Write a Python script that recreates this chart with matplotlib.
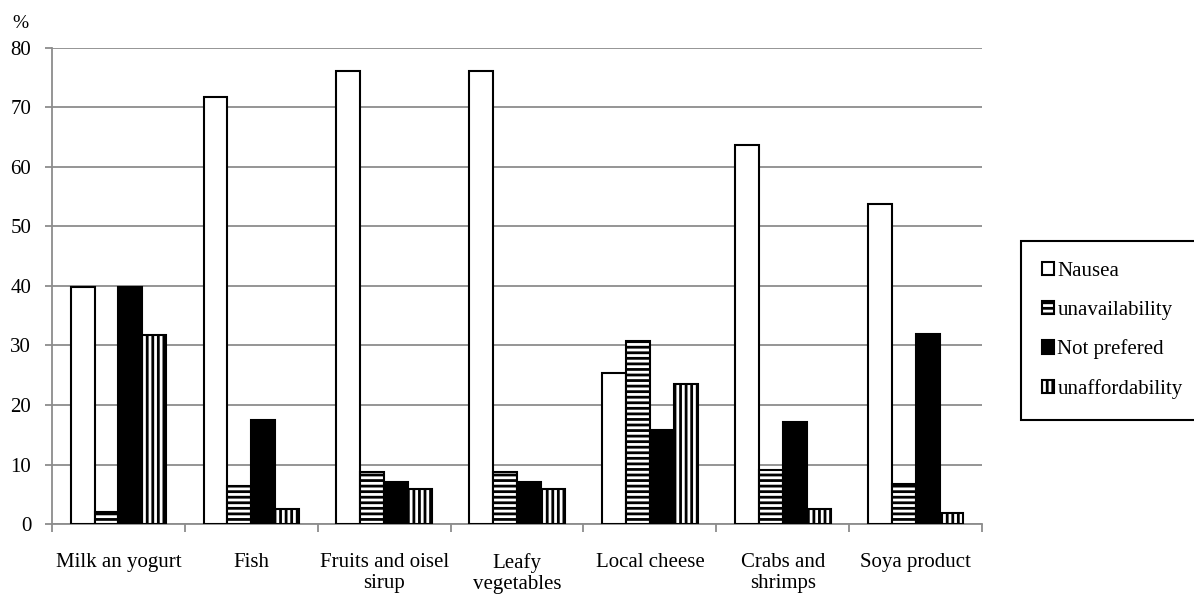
import matplotlib
matplotlib.use("Agg")
import matplotlib.pyplot as plt
import numpy as np

plt.rcParams['font.family'] = ['Liberation Serif', 'DejaVu Serif']
plt.rcParams['hatch.color'] = 'black'
plt.rcParams['hatch.linewidth'] = 2.0

categories = ["Milk an yogurt", "Fish", "Fruits and oisel\nsirup", "Leafy\nvegetables",
              "Local cheese", "Crabs and\nshrimps", "Soya product"]
series_names = ["Nausea", "unavailability", "Not prefered", "unaffordability"]
nausea = [39.8, 71.7, 76.1, 76.1, 25.4, 63.7, 53.7]
unavailability = [2.0, 6.4, 8.7, 8.7, 30.8, 9.1, 6.8]
not_prefered = [39.8, 17.5, 7.1, 7.1, 15.8, 17.2, 32.0]
unaffordability = [31.8, 2.6, 5.8, 5.8, 23.6, 2.6, 1.9]
y_ticks = [0, 10, 20, 30, 40, 50, 60, 70, 80]

series = [nausea, unavailability, not_prefered, unaffordability]
faces = ['white', 'white', 'black', 'white']
hatches = [None, '---', None, '|||']

fig = plt.figure(figsize=(11.94, 5.96), dpi=100)
ax = fig.add_axes([0.0436, 0.1208, 0.7789, 0.7987])

x = np.arange(len(categories))
w = 0.18
for i, vals in enumerate(series):
    ax.bar(x + (i - 1.5) * w, vals, w, color=faces[i], edgecolor='black',
           linewidth=1.5, hatch=hatches[i], label=series_names[i], zorder=3)

ax.set_xlim(-0.5, len(categories) - 0.5)
ax.set_ylim(0, 80)
ax.set_yticks(y_ticks)
ax.yaxis.grid(True, color='#8c8c8c', linewidth=1.3, zorder=0)
ax.set_xticks(x)
ax.set_xticklabels(categories, fontsize=15, linespacing=1.15)
ax.tick_params(axis='x', length=0, pad=21)
ax.set_xticks(np.arange(-0.5, len(categories)), minor=True)
ax.tick_params(axis='x', which='minor', length=6, color='#8c8c8c', width=1.3)
ax.tick_params(axis='y', length=5, color='#8c8c8c', width=1.3, labelsize=15, pad=10)
for s in ['top', 'right']:
    ax.spines[s].set_visible(False)
for s in ['left', 'bottom']:
    ax.spines[s].set_color('#8c8c8c')
    ax.spines[s].set_linewidth(1.3)

fig.text(0.010, 1 - 28 / 596, "%", fontsize=14)

leg = ax.legend(loc='upper left', bbox_to_anchor=(1021 / 1194, 1 - 241 / 596),
                bbox_transform=fig.transFigure, fontsize=15,
                handlelength=0.6, handleheight=0.6, handletextpad=0.15,
                labelspacing=0.95, borderpad=1.0, fancybox=False, framealpha=1,
                edgecolor='black', borderaxespad=0)
leg.get_frame().set_linewidth(1.5)

fig.savefig("out.png", dpi=100)
